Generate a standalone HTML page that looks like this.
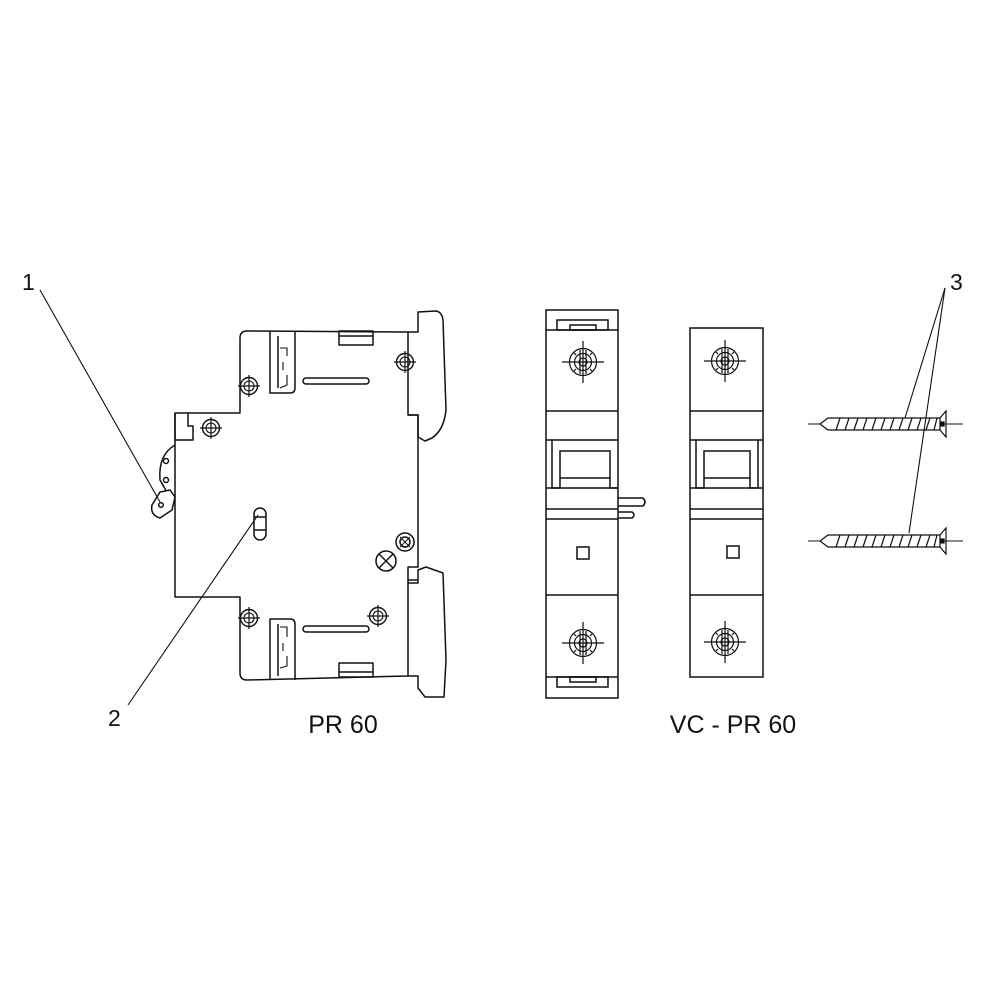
<!DOCTYPE html>
<html><head><meta charset="utf-8"><style>
html,body{margin:0;padding:0;background:#fff}
svg{display:block}
text{font-family:"Liberation Sans","DejaVu Sans",sans-serif;fill:#111}
</style></head><body>
<svg width="1000" height="1000" viewBox="0 0 1000 1000" xmlns="http://www.w3.org/2000/svg">
<defs>
<g id="sc"><circle r="8.5" fill="none" stroke="#111" stroke-width="1.4"/><circle r="5" fill="none" stroke="#111" stroke-width="1.1"/><line x1="-11" y1="0" x2="11" y2="0" stroke="#111" stroke-width="1.2"/><line x1="0" y1="-11" x2="0" y2="11" stroke="#111" stroke-width="1.2"/></g>
<g id="ph" fill="none" stroke="#111" stroke-width="1.2"><circle r="13.5"/><circle r="8.5"/><circle r="4"/><line x1="-21" y1="0" x2="21" y2="0"/><line x1="0" y1="-21" x2="0" y2="21"/><line x1="-3" y1="-12" x2="-3" y2="12"/><line x1="3" y1="-12" x2="3" y2="12"/><line x1="-7" y1="-7" x2="-9" y2="-9"/><line x1="7" y1="-7" x2="9" y2="-9"/><line x1="-7" y1="7" x2="-9" y2="9"/><line x1="7" y1="7" x2="9" y2="9"/></g>
<g id="screw" fill="none" stroke="#111" stroke-width="1.2">
<line x1="808" y1="0" x2="963" y2="0" stroke-width="1"/>
<path d="M828,-6 L820,0 L828,6 L940,6 L940,-6 Z" fill="#fff"/>
<path d="M940,-6 L946,-13 L946,13 L940,6"/>
<line x1="836" y1="6" x2="840" y2="-6"/><line x1="845" y1="6" x2="849" y2="-6"/><line x1="854" y1="6" x2="858" y2="-6"/><line x1="863" y1="6" x2="867" y2="-6"/><line x1="872" y1="6" x2="876" y2="-6"/><line x1="881" y1="6" x2="885" y2="-6"/><line x1="890" y1="6" x2="894" y2="-6"/><line x1="899" y1="6" x2="903" y2="-6"/><line x1="908" y1="6" x2="912" y2="-6"/><line x1="917" y1="6" x2="921" y2="-6"/><line x1="926" y1="6" x2="930" y2="-6"/><line x1="934" y1="6" x2="937" y2="-6"/>
<rect x="941" y="-2" width="3" height="4" fill="#111"/>
</g>
</defs>

<g fill="none" stroke="#111" stroke-width="1.5" stroke-linejoin="round">
<path d="M247,331 L408,332 L408,415 L418,415 L418,567 L408,567 L408,676 L247,680 Q240,680 240,673 L240,597 L175,597 L175,413 L240,413 L240,338 Q240,331 247,331 Z"/>
<path d="M175,413 L175,440 L193,440 L193,426 L188,426 L188,413"/>
<path d="M175,445 Q158,455 160,480 L168,494 L175,497"/>
<circle cx="166" cy="461" r="2.5"/><circle cx="166" cy="480" r="2.5"/>
<path d="M160,492 L170,490 L175,497 L172,510 L160,518 Q150,515 152,505 Z" fill="#fff"/>
<circle cx="161" cy="505" r="2.3"/>
<rect x="339" y="331" width="34" height="14"/><line x1="339" y1="336" x2="373" y2="336"/>
<rect x="339" y="663" width="34" height="14"/><line x1="339" y1="672" x2="373" y2="672"/>
<path d="M270,331 L270,393 L290,393 Q295,393 295,388 L295,331"/>
<path d="M270,680 L270,619 L290,619 Q295,619 295,624 L295,680"/>
<path d="M278,336 L278,388 M278,624 L278,676"/>
<path d="M280,348 L287,348 L287,356 M283,362 L283,370 M287,375 L287,385 L280,388" stroke-width="1.1"/>
<path d="M280,627 L287,627 L287,637 M283,643 L283,651 M287,656 L287,666 L280,668" stroke-width="1.1"/>
<rect x="303" y="378" width="66" height="6" rx="3"/>
<rect x="303" y="626" width="66" height="6" rx="3"/>
<path d="M408,332 L418,332 L418,312 L436,311 Q442,312 443,320 L446,410 Q444,430 432,438 L425,441 L418,437 L418,415 L408,415"/>
<path d="M408,583 L418,583 L418,570 L426,567 L443,573 L446,660 L444,697 L425,697 L418,688 L418,676 L408,676"/>
<line x1="408" y1="580" x2="418" y2="580"/>
<rect x="254" y="508" width="12" height="32" rx="6"/>
<line x1="254" y1="517" x2="266" y2="517"/><line x1="254" y1="530" x2="266" y2="530"/>
<circle cx="386" cy="561" r="10"/><line x1="379" y1="554" x2="393" y2="568"/><line x1="393" y1="554" x2="379" y2="568"/>
<circle cx="405" cy="542" r="9"/><circle cx="405" cy="542" r="5"/>
</g>
<use href="#sc" x="249" y="386"/><use href="#sc" x="211" y="428"/><use href="#sc" x="405" y="362"/>
<use href="#sc" x="249" y="618"/><use href="#sc" x="378" y="616"/>
<g stroke="#111" stroke-width="1"><line x1="400" y1="537" x2="410" y2="547"/><line x1="410" y1="537" x2="400" y2="547"/></g>

<g fill="none" stroke="#111" stroke-width="1.5">
<rect x="546" y="310" width="72" height="388"/>
<line x1="546" y1="330" x2="618" y2="330"/><line x1="546" y1="411" x2="618" y2="411"/><line x1="546" y1="440" x2="618" y2="440"/>
<line x1="546" y1="509" x2="618" y2="509"/><line x1="546" y1="519" x2="618" y2="519"/><line x1="546" y1="595" x2="618" y2="595"/><line x1="546" y1="677" x2="618" y2="677"/>
<rect x="557" y="320" width="51" height="10"/><rect x="570" y="325" width="26" height="5"/>
<rect x="557" y="677" width="51" height="10"/><rect x="570" y="677" width="26" height="5"/>
<path d="M552,440 L552,488 L560,488 L560,451 L610,451 L610,488 L618,488"/><line x1="560" y1="478" x2="610" y2="478"/><line x1="546" y1="488" x2="618" y2="488"/>
<rect x="577" y="547" width="12" height="12"/>
<path d="M618,498 L643,498 Q647,502 643,506 L618,506"/>
<path d="M618,512 L632,512 Q636,515 632,518 L618,518"/>
<rect x="690" y="328" width="73" height="349"/>
<line x1="690" y1="411" x2="763" y2="411"/><line x1="690" y1="440" x2="763" y2="440"/>
<line x1="690" y1="509" x2="763" y2="509"/><line x1="690" y1="519" x2="763" y2="519"/><line x1="690" y1="595" x2="763" y2="595"/>
<path d="M696,440 L696,488 L704,488 L704,451 L750,451 L750,488 L758,488 L758,440"/><line x1="704" y1="478" x2="750" y2="478"/><line x1="690" y1="488" x2="763" y2="488"/>
<rect x="727" y="546" width="12" height="12"/>
</g>
<use href="#ph" x="583" y="362"/><use href="#ph" x="583" y="643"/>
<use href="#ph" x="725" y="361"/><use href="#ph" x="725" y="642"/>

<use href="#screw" y="424"/><use href="#screw" y="541"/>

<g stroke="#111" stroke-width="1.1">
<line x1="40" y1="290" x2="160" y2="502"/>
<line x1="128" y1="705" x2="258" y2="515"/>
<line x1="945" y1="288" x2="905" y2="418"/>
<line x1="945" y1="288" x2="909" y2="533"/>
</g>
<text x="22" y="290" font-size="23">1</text>
<text x="108" y="726" font-size="23">2</text>
<text x="950" y="290" font-size="23">3</text>
<text x="343" y="733" font-size="25" text-anchor="middle">PR 60</text>
<text x="733" y="733" font-size="25" text-anchor="middle">VC - PR 60</text>
</svg>
</body></html>
